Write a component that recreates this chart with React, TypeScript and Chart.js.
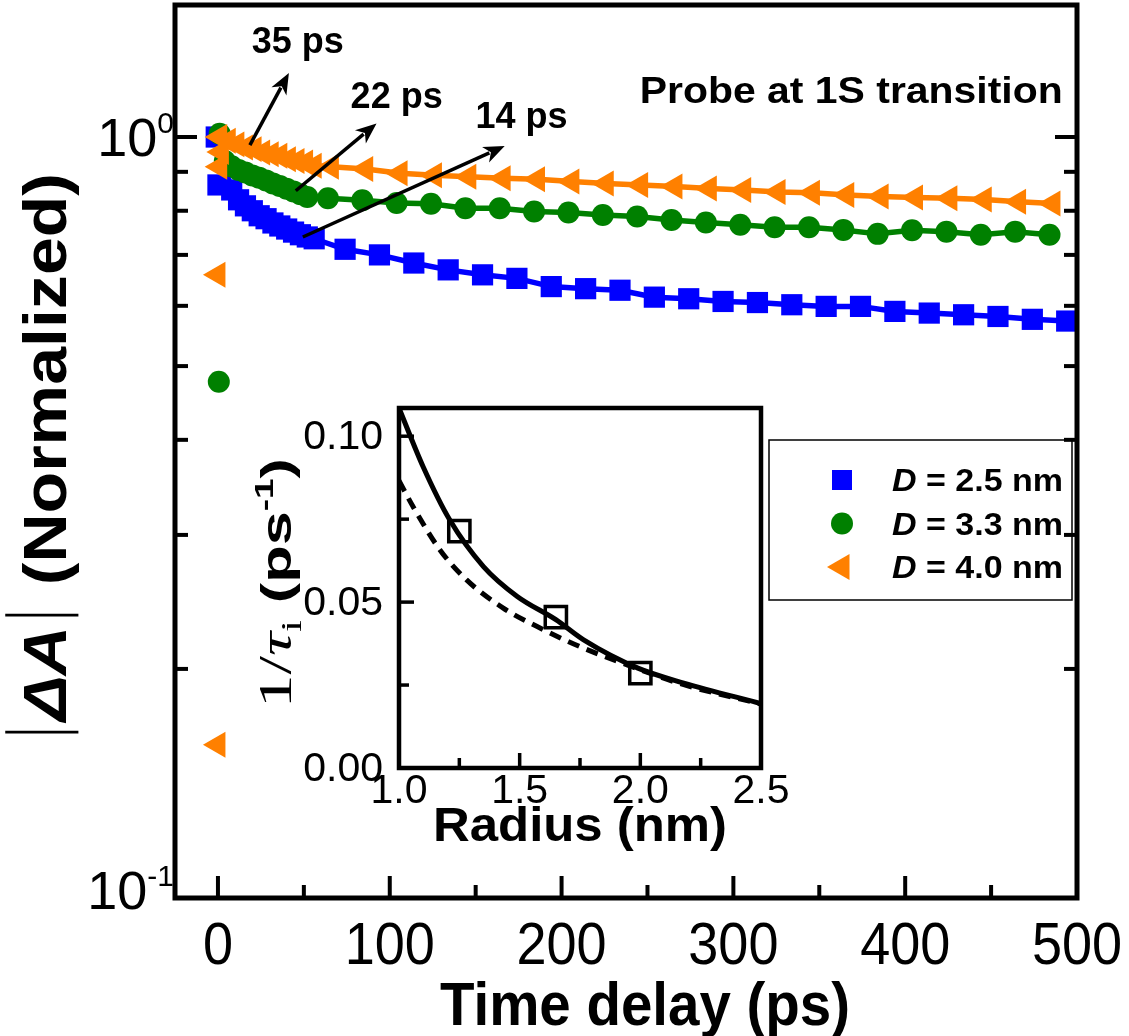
import React, { useEffect, useRef } from 'react';
import { Chart, registerables } from 'chart.js';
Chart.register(...registerables);

const W = 1129;
const H = 1036;

// ---------- main panel data ----------
const blueTime = [-1, 8, 12, 16, 20, 24, 28, 32, 36, 40, 44, 48, 52, 56, 74, 94, 114, 134, 154, 174, 194, 214, 234, 254, 274, 294, 314, 334, 354, 374, 394, 414, 434, 454, 474, 494];
const blueValue = [1.0, 0.852, 0.827, 0.812, 0.8, 0.788, 0.781, 0.771, 0.764, 0.757, 0.75, 0.744, 0.739, 0.735, 0.712, 0.7, 0.683, 0.669, 0.659, 0.652, 0.636, 0.632, 0.629, 0.616, 0.613, 0.608, 0.606, 0.602, 0.599, 0.599, 0.59, 0.587, 0.584, 0.581, 0.576, 0.573];
const blueExtraTime = [0];
const blueExtraValue = [0.865];

const greenTime = [1, 4, 8, 12, 16, 20, 24, 28, 32, 36, 40, 44, 48, 52, 64, 84, 104, 124, 144, 164, 184, 204, 224, 244, 264, 284, 304, 324, 344, 364, 384, 404, 424, 444, 464, 484];
const greenValue = [1.01, 0.93, 0.915, 0.905, 0.898, 0.89, 0.884, 0.877, 0.869, 0.862, 0.855, 0.848, 0.841, 0.834, 0.831, 0.826, 0.819, 0.817, 0.806, 0.806, 0.798, 0.796, 0.79, 0.786, 0.778, 0.772, 0.767, 0.761, 0.761, 0.755, 0.746, 0.754, 0.751, 0.744, 0.751, 0.744];
const greenExtraTime = [0.5];
const greenExtraValue = [0.477];

const orangeTime = [1, 6, 11, 16, 21, 26, 31, 36, 41, 46, 51, 56, 66, 86, 106, 126, 146, 166, 186, 206, 226, 246, 266, 286, 306, 326, 346, 366, 386, 406, 426, 446, 466, 486];
const orangeValue = [1.0, 0.989, 0.978, 0.969, 0.964, 0.954, 0.949, 0.945, 0.935, 0.93, 0.926, 0.917, 0.914, 0.908, 0.896, 0.891, 0.887, 0.883, 0.88, 0.874, 0.869, 0.865, 0.861, 0.856, 0.852, 0.847, 0.845, 0.839, 0.835, 0.833, 0.831, 0.828, 0.822, 0.818];
const orangeExtraTime = [0, 0, 1, 2];
const orangeExtraValue = [0.159, 0.659, 0.914, 0.956];

const seriesLabels = ['2.5', '3.3', '4.0'];

const arrowLabels = ['35 ps', '22 ps', '14 ps'];
const arrowTailTime = [18.6, 45.3, 49.4];
const arrowTailValue = [0.976, 0.85, 0.739];
const arrowHeadTime = [41.3, 92.3, 166.9];
const arrowHeadValue = [1.214, 1.042, 0.973];
const arrowLabelTime = [46.5, 104, 176.7];
const arrowLabelValue = [1.341, 1.135, 1.069];

const probeText = 'Probe at 1S transition';
const probeTime = 368.6;
const probeValue = 1.153;

const xMajorTicks = [0, 100, 200, 300, 400, 500];
const xMinorTicks = [50, 150, 250, 350, 450];
const yMajorTicks = [0.1, 1];
const yMajorExponents = ['-1', '0'];
const yMinorTicks = [0.2, 0.3, 0.4, 0.5, 0.6, 0.7, 0.8, 0.9];

// ---------- inset data ----------
const insetRadius = [1.25, 1.65, 2.0];
const insetRate = [0.0714, 0.0455, 0.0286];
const solidRadius = [1.0, 1.1, 1.21, 1.35, 1.49, 1.65, 1.765, 1.99, 2.18, 2.5];
const solidRate = [0.1085, 0.0908, 0.0748, 0.0607, 0.0517, 0.0447, 0.0386, 0.0301, 0.0256, 0.0194];
const dashedRadius = [1.0, 1.058, 1.169, 1.28, 1.432, 1.598, 1.765, 1.945, 2.18, 2.5];
const dashedRate = [0.0866, 0.0788, 0.0658, 0.0567, 0.0482, 0.0417, 0.0361, 0.0311, 0.0251, 0.0193];
const insetXMajor = [1.0, 1.5, 2.0, 2.5];
const insetXMinor = [1.25, 1.75, 2.25];
const insetYMajor = [0, 0.05, 0.1];
const insetYMinor = [0.025, 0.075];

const BLUE = '#0000FF';
const GREEN = '#008000';
const ORANGE = '#FF8000';
const SANS = "'Liberation Sans', Arial, sans-serif";
const SERIF = "'Liberation Serif', 'Times New Roman', serif";

// inset canvas placement on the page
const INSET_LEFT = 225;
const INSET_TOP = 380;
const INSET_W = 565;
const INSET_H = 500;

type Seg = { t?: string; font?: string; dy?: number; bar?: { w: number; y1: number; y2: number; lw: number } };

function drawRich(ctx: CanvasRenderingContext2D, segs: Seg[], x: number, y: number,
  opt: { align?: 'left' | 'center' | 'right'; rot?: number; sx?: number; width?: number; by?: number }) {
  ctx.save();
  const widths = segs.map((s) => {
    if (s.bar) return s.bar.w;
    ctx.font = s.font as string;
    return ctx.measureText(s.t as string).width;
  });
  const total = widths.reduce((a, b) => a + b, 0);
  const sx = opt.width ? opt.width / total : (opt.sx ?? 1);
  ctx.translate(x, y);
  if (opt.rot) ctx.rotate(opt.rot);
  ctx.scale(sx, 1);
  let cx = opt.align === 'left' ? 0 : opt.align === 'right' ? -total : -total / 2;
  const by = opt.by ?? 0;
  ctx.fillStyle = '#000';
  ctx.strokeStyle = '#000';
  ctx.textAlign = 'left';
  ctx.textBaseline = 'alphabetic';
  segs.forEach((s, i) => {
    if (s.bar) {
      ctx.lineWidth = s.bar.lw;
      ctx.beginPath();
      const bx = cx + s.bar.w / 2;
      ctx.moveTo(bx, by + s.bar.y1);
      ctx.lineTo(bx, by + s.bar.y2);
      ctx.stroke();
    } else {
      ctx.font = s.font as string;
      ctx.fillText(s.t as string, cx, by + (s.dy ?? 0));
    }
    cx += widths[i];
  });
  ctx.restore();
}

function drawArrow(ctx: CanvasRenderingContext2D, x1: number, y1: number, x2: number, y2: number) {
  const ang = Math.atan2(y2 - y1, x2 - x1);
  const hl = 21;
  const hw = 8.5;
  const c = Math.cos(ang);
  const s = Math.sin(ang);
  ctx.save();
  ctx.strokeStyle = '#000';
  ctx.fillStyle = '#000';
  ctx.lineWidth = 3.5;
  ctx.beginPath();
  ctx.moveTo(x1, y1);
  ctx.lineTo(x2 - c * hl * 0.8, y2 - s * hl * 0.8);
  ctx.stroke();
  ctx.beginPath();
  ctx.moveTo(x2, y2);
  ctx.lineTo(x2 - c * hl - s * hw, y2 - s * hl + c * hw);
  ctx.lineTo(x2 - c * hl * 0.72, y2 - s * hl * 0.72);
  ctx.lineTo(x2 - c * hl + s * hw, y2 - s * hl - c * hw);
  ctx.closePath();
  ctx.fill();
  ctx.restore();
}

function drawMarker(ctx: CanvasRenderingContext2D, style: string, x: number, y: number, color: string) {
  ctx.save();
  ctx.fillStyle = color;
  ctx.beginPath();
  if (style === 'rect') {
    ctx.rect(x - 10, y - 10, 20, 20);
  } else if (style === 'circle') {
    ctx.arc(x, y, 11, 0, Math.PI * 2);
  } else {
    const r = 15;
    ctx.moveTo(x - r, y);
    ctx.lineTo(x + 0.5 * r, y - 0.866 * r);
    ctx.lineTo(x + 0.5 * r, y + 0.866 * r);
    ctx.closePath();
  }
  ctx.fill();
  ctx.restore();
}

const pts = (xs: number[], ys: number[]) => xs.map((x, i) => ({ x, y: ys[i] }));

const mainDecor = {
  id: 'mainDecor',
  beforeDraw(chart: any) {
    const ctx = chart.ctx;
    ctx.save();
    ctx.fillStyle = '#fff';
    ctx.fillRect(0, 0, chart.width, chart.height);
    ctx.restore();
  },
  afterDraw(chart: any) {
    const ctx: CanvasRenderingContext2D = chart.ctx;
    const { left, right, top, bottom } = chart.chartArea;
    const xs = chart.scales.x;
    const ys = chart.scales.y;
    ctx.save();
    ctx.strokeStyle = '#000';
    ctx.lineWidth = 4;
    const tick = (x1: number, y1: number, x2: number, y2: number) => {
      ctx.beginPath(); ctx.moveTo(x1, y1); ctx.lineTo(x2, y2); ctx.stroke();
    };
    xMajorTicks.forEach((v) => { const p = xs.getPixelForValue(v); tick(p, bottom, p, bottom - 22); });
    xMinorTicks.forEach((v) => { const p = xs.getPixelForValue(v); tick(p, bottom, p, bottom - 13); });
    yMajorTicks.forEach((v) => { const p = ys.getPixelForValue(v); tick(left, p, left + 22, p); tick(right, p, right - 22, p); });
    yMinorTicks.forEach((v) => { const p = ys.getPixelForValue(v); tick(left, p, left + 13, p); tick(right, p, right - 13, p); });
    ctx.lineWidth = 5;
    ctx.strokeRect(left, top, right - left, bottom - top);
    ctx.restore();

    // x tick labels (condensed)
    xMajorTicks.forEach((v) => {
      drawRich(ctx, [{ t: String(v), font: `60px ${SANS}` }], xs.getPixelForValue(v), 943, { sx: 0.9, by: 21 });
    });
    // y tick labels
    yMajorTicks.forEach((v, i) => {
      const p = ys.getPixelForValue(v) - (i === 0 ? 8 : 0);
      drawRich(ctx, [
        { t: '10', font: `54px ${SANS}` },
        { t: yMajorExponents[i], font: `30px ${SANS}`, dy: -23 },
      ], 174, p, { align: 'right', by: 19 });
    });
    // axis titles
    drawRich(ctx, [{ t: 'Time delay (ps)', font: `bold 62px ${SANS}` }], 645, 1003, { width: 410, by: 22 });
    const F = 62;
    drawRich(ctx, [
      { bar: { w: 20, y1: -F * 0.98, y2: F * 0.2, lw: 2.5 } },
      { t: 'ΔA', font: `italic bold ${F}px ${SANS}` },
      { bar: { w: 20, y1: -F * 0.98, y2: F * 0.2, lw: 2.5 } },
      { t: ' (Normalized)', font: `bold ${F}px ${SANS}` },
    ], 44, 458, { rot: -Math.PI / 2, width: 570, by: 22 });

    // arrows and lifetime labels
    arrowLabels.forEach((lab, i) => {
      drawArrow(ctx,
        xs.getPixelForValue(arrowTailTime[i]), ys.getPixelForValue(arrowTailValue[i]),
        xs.getPixelForValue(arrowHeadTime[i]), ys.getPixelForValue(arrowHeadValue[i]));
      drawRich(ctx, [{ t: lab, font: `bold 36px ${SANS}` }],
        xs.getPixelForValue(arrowLabelTime[i]), ys.getPixelForValue(arrowLabelValue[i]), { by: 13 });
    });
    drawRich(ctx, [{ t: probeText, font: `bold 36px ${SANS}` }],
      xs.getPixelForValue(probeTime), ys.getPixelForValue(probeValue), { width: 423, by: 13 });

    // legend
    ctx.save();
    ctx.strokeStyle = '#000';
    ctx.lineWidth = 1.5;
    ctx.strokeRect(769, 440, 303, 160);
    ctx.restore();
    const legendOrder = [4, 2, 0];
    legendOrder.forEach((di, row) => {
      const ds = chart.data.datasets[di];
      const cy = 480 + row * 43.5;
      drawMarker(ctx, ds.pointStyle, 842, cy, ds.backgroundColor);
      drawRich(ctx, [
        { t: 'D', font: `italic bold 31px ${SANS}` },
        { t: ` = ${seriesLabels[row]} nm`, font: `bold 31px ${SANS}` },
      ], 892, cy, { align: 'left', width: 171, by: 11 });
    });
  },
};

const insetDecor = {
  id: 'insetDecor',
  beforeDatasetsDraw(chart: any) {
    const ctx = chart.ctx;
    const { left, right, top, bottom } = chart.chartArea;
    ctx.save();
    ctx.fillStyle = '#fff';
    ctx.fillRect(left, top, right - left, bottom - top);
    ctx.restore();
  },
  afterDraw(chart: any) {
    const ctx: CanvasRenderingContext2D = chart.ctx;
    const { left, right, top, bottom } = chart.chartArea;
    const xs = chart.scales.x;
    const ys = chart.scales.y;
    ctx.save();
    ctx.strokeStyle = '#000';
    ctx.lineWidth = 3.5;
    const tick = (x1: number, y1: number, x2: number, y2: number) => {
      ctx.beginPath(); ctx.moveTo(x1, y1); ctx.lineTo(x2, y2); ctx.stroke();
    };
    insetXMajor.forEach((v) => { const p = xs.getPixelForValue(v); tick(p, bottom, p, bottom - 15); });
    insetXMinor.forEach((v) => { const p = xs.getPixelForValue(v); tick(p, bottom, p, bottom - 10); });
    insetYMajor.forEach((v) => { const p = ys.getPixelForValue(v); tick(left, p, left + 15, p); });
    insetYMinor.forEach((v) => { const p = ys.getPixelForValue(v); tick(left, p, left + 10, p); });
    ctx.lineWidth = 4.5;
    ctx.strokeRect(left, top, right - left, bottom - top);
    ctx.restore();

    // page y -> canvas y : subtract INSET_TOP ; page x -> canvas x : subtract INSET_LEFT
    insetXMajor.forEach((v) => {
      drawRich(ctx, [{ t: v.toFixed(1), font: `41px ${SANS}` }], xs.getPixelForValue(v), 788 - INSET_TOP, { by: 15 });
    });
    insetYMajor.forEach((v) => {
      drawRich(ctx, [{ t: v.toFixed(2), font: `41px ${SANS}` }], 383 - INSET_LEFT, ys.getPixelForValue(v) - 2, { align: 'right', by: 15 });
    });
    drawRich(ctx, [{ t: 'Radius (nm)', font: `bold 48px ${SANS}` }], (left + right) / 2, 824 - INSET_TOP, { width: 294, by: 17 });
    drawRich(ctx, [
      { t: '1/', font: `47px ${SERIF}` },
      { t: 'τ', font: `italic 47px ${SERIF}` },
      { t: 'i', font: `30px ${SERIF}`, dy: 10 },
      { t: ' (ps', font: `bold 43px ${SANS}` },
      { t: '-1', font: `bold 26px ${SANS}`, dy: -18 },
      { t: ')', font: `bold 43px ${SANS}` },
    ], 276 - INSET_LEFT, 583 - INSET_TOP, { rot: -Math.PI / 2, width: 250, by: 15 });
  },
};

export default function App() {
  const mainRef = useRef<HTMLCanvasElement>(null);
  const insetRef = useRef<HTMLCanvasElement>(null);

  useEffect(() => {
    document.body.style.margin = '0';
    const pointCommon = { pointBorderWidth: 0, pointHoverRadius: 0 };
    const LW = 5.5;
    const main = new Chart(mainRef.current as HTMLCanvasElement, {
      type: 'scatter',
      data: {
        datasets: [
          { label: 'D = 4.0 nm', data: pts(orangeTime, orangeValue), showLine: true, borderColor: ORANGE, backgroundColor: ORANGE, borderWidth: LW, pointStyle: 'triangle', pointRotation: -90, pointRadius: 15, ...pointCommon },
          { label: 'D = 4.0 nm extra', data: pts(orangeExtraTime, orangeExtraValue), showLine: false, borderColor: ORANGE, backgroundColor: ORANGE, pointStyle: 'triangle', pointRotation: -90, pointRadius: 15, ...pointCommon },
          { label: 'D = 3.3 nm', data: pts(greenTime, greenValue), showLine: true, borderColor: GREEN, backgroundColor: GREEN, borderWidth: LW, pointStyle: 'circle', pointRadius: 11, ...pointCommon },
          { label: 'D = 3.3 nm extra', data: pts(greenExtraTime, greenExtraValue), showLine: false, borderColor: GREEN, backgroundColor: GREEN, pointStyle: 'circle', pointRadius: 11, ...pointCommon },
          { label: 'D = 2.5 nm', data: pts(blueTime, blueValue), showLine: true, borderColor: BLUE, backgroundColor: BLUE, borderWidth: LW, pointStyle: 'rect', pointRadius: 15, ...pointCommon },
          { label: 'D = 2.5 nm extra', data: pts(blueExtraTime, blueExtraValue), showLine: false, borderColor: BLUE, backgroundColor: BLUE, pointStyle: 'rect', pointRadius: 15, ...pointCommon },
        ] as any,
      },
      options: {
        animation: false,
        responsive: false,
        devicePixelRatio: 1,
        events: [],
        layout: { autoPadding: false, padding: { left: 175, top: 5, right: 52, bottom: 138 } },
        plugins: { legend: { display: false }, tooltip: { enabled: false } },
        scales: {
          x: { type: 'linear', min: -25, max: 500, display: false, bounds: 'data' },
          y: { type: 'logarithmic', min: 0.1, max: 1.491, display: false, bounds: 'data' },
        },
      } as any,
      plugins: [mainDecor],
    });

    const inset = new Chart(insetRef.current as HTMLCanvasElement, {
      type: 'scatter',
      data: {
        datasets: [
          { label: 'measured', data: pts(insetRadius, insetRate), showLine: false, pointStyle: 'rect', pointRadius: 15, pointBorderWidth: 3.5, pointBorderColor: '#000', pointBackgroundColor: 'rgba(0,0,0,0)', pointHoverRadius: 0 },
          { label: 'model', data: pts(solidRadius, solidRate), showLine: true, borderColor: '#000', borderWidth: 5, pointRadius: 0, cubicInterpolationMode: 'monotone' },
          { label: 'model 2', data: pts(dashedRadius, dashedRate), showLine: true, borderColor: '#000', borderWidth: 5, borderDash: [12, 8], pointRadius: 0, cubicInterpolationMode: 'monotone' },
        ] as any,
      },
      options: {
        animation: false,
        responsive: false,
        devicePixelRatio: 1,
        events: [],
        layout: {
          autoPadding: false,
          padding: { left: 399 - INSET_LEFT, top: 408 - INSET_TOP, right: INSET_LEFT + INSET_W - 761, bottom: INSET_TOP + INSET_H - 768 },
        },
        plugins: { legend: { display: false }, tooltip: { enabled: false } },
        scales: {
          x: { type: 'linear', min: 1.0, max: 2.5, display: false, bounds: 'data' },
          y: { type: 'linear', min: 0, max: 0.1085, display: false, bounds: 'data' },
        },
      } as any,
      plugins: [insetDecor],
    });

    return () => {
      main.destroy();
      inset.destroy();
    };
  }, []);

  return (
    <div style={{ position: 'relative', width: W, height: H, background: '#fff' }}>
      <canvas ref={mainRef} width={W} height={H} style={{ position: 'absolute', left: 0, top: 0 }} />
      <canvas ref={insetRef} width={INSET_W} height={INSET_H} style={{ position: 'absolute', left: INSET_LEFT, top: INSET_TOP }} />
    </div>
  );
}
